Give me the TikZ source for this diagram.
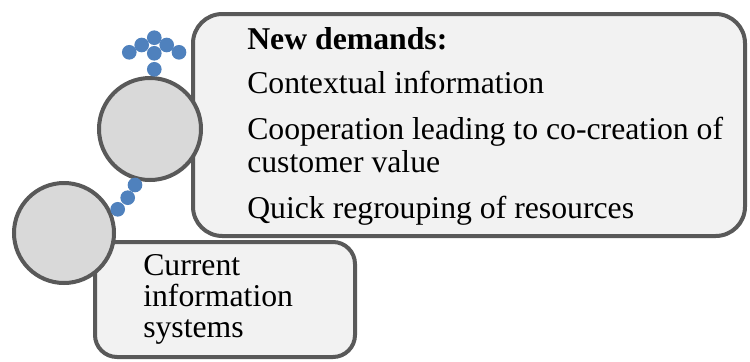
\documentclass[tikz,border=0pt]{standalone}
\usepackage{fontspec}
\setmainfont{Liberation Serif}
\usetikzlibrary{positioning}
\definecolor{edgegray}{RGB}{89,89,89}
\definecolor{boxfill}{RGB}{242,242,242}
\definecolor{circfill}{RGB}{217,217,217}
\definecolor{dotblue}{RGB}{79,129,189}
\tikzset{
  card/.style={rectangle, rounded corners=22pt, draw=edgegray, fill=boxfill, line width=3pt,
               inner sep=0pt},
  disc/.style={circle, draw=edgegray, fill=circfill, line width=3pt, inner sep=0pt},
  bead/.style={circle, fill=dotblue, minimum size=11pt, inner sep=0pt},
  txt/.style={anchor=base west, inner sep=0pt, align=left,
              font=\fontsize{23.8}{24.75}\selectfont},
}

\begin{document}
\begin{tikzpicture}[x=0.75pt, y=-0.75pt]
    \useasboundingbox (0,0) rectangle (750,361);

    % lower level: current systems
    \node[card, rounded corners=16.5pt, minimum width=195pt, minimum height=86.25pt] (curbox) at (225,299.5) {};
    \node[disc, minimum size=75pt] (curdisc) at (64,233) {};
    \node[txt, font=\fontsize{23.8}{23.25}\selectfont] (curtext) at (143,337)
        {Current\\ information\\ systems};

    % upper level: new demands
    \node[card, minimum width=414pt, minimum height=166.5pt] (newbox) at (469,125) {};
    \node[disc, minimum size=76.5pt] (newdisc) at (150,129) {};
    \node[txt] (title) at (247,49) {\textbf{New demands:}};
    \node[txt] (ctx) at (247,93) {Contextual information};
    \node[txt] (coop) at (247,172) {Cooperation leading to co-creation of\\ customer value};
    \node[txt] (regroup) at (247,218) {Quick regrouping of resources};

    % dotted arrow on top
    \foreach \i/\p in {1/{(154.3,37.7)}, 2/{(141.7,45)}, 3/{(166.7,45)}, 4/{(129.3,52.3)},
                       5/{(179,52.3)}, 6/{(154.3,53.3)}, 7/{(154.3,69.3)}}
        \node[bead] (up\i) at \p {};

    % dotted link between the discs
    \foreach \i/\p in {1/{(135,185)}, 2/{(127.7,197.7)}, 3/{(117.7,209.3)}}
        \node[bead] (link\i) at \p {};
\end{tikzpicture}
\end{document}
